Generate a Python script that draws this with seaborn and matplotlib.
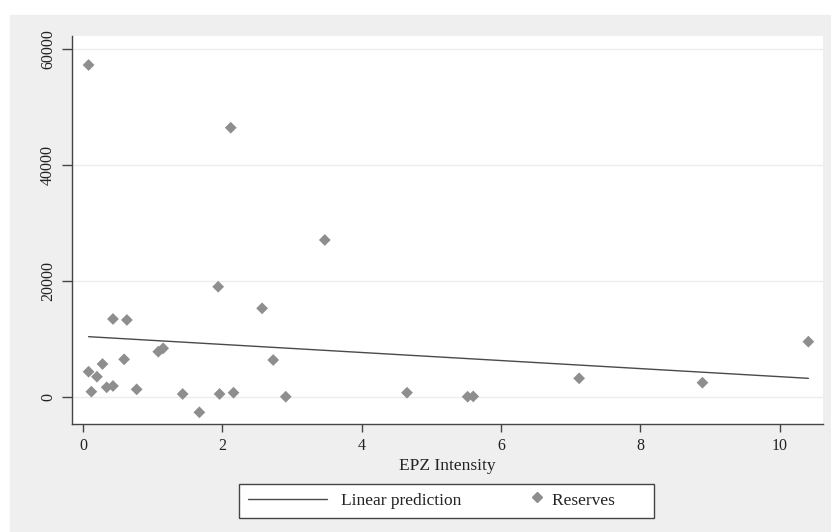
import numpy as np
import pandas as pd
import seaborn as sns
import matplotlib.pyplot as plt
from matplotlib.patches import Rectangle
from matplotlib.lines import Line2D
from matplotlib.legend_handler import HandlerLine2D

# values
epz = [0.08, 2.12, 3.47, 1.94, 2.57, 0.43, 0.63, 1.08, 1.15, 0.28,
       0.59, 2.73, 0.08, 0.20, 0.12, 0.34, 0.43, 0.77, 1.43, 1.67,
       1.96, 2.16, 2.91, 4.65, 5.52, 5.60, 7.12, 8.89, 10.41]
reserves = [57240, 46430, 27070, 19010, 15290, 13450, 13280, 7810, 8390, 5690,
            6500, 6380, 4360, 3500, 920, 1670, 1900, 1320, 520, -2640,
            520, 740, 50, 740, 50, 100, 3220, 2470, 9540]
pred_x = [0.08, 10.41]
pred_y = [10400, 3220]

df = pd.DataFrame({"EPZ Intensity": epz, "Reserves": reserves})
line_df = pd.DataFrame({"x": pred_x, "y": pred_y})

sns.set_style("white")
plt.rcParams['font.family'] = ['Liberation Serif', 'DejaVu Serif']


# stata style key: symbol sits at the right end of the key area
class RightMarker(HandlerLine2D):
    def create_artists(self, legend, orig_handle, xdescent, ydescent,
                       width, height, fontsize, trans):
        arts = super().create_artists(legend, orig_handle, xdescent, ydescent,
                                      width, height, fontsize, trans)
        for a in arts:
            xd = np.asarray(a.get_xdata(), float)
            yd = np.asarray(a.get_ydata(), float)
            a.set_data(np.full_like(xd, width - 1), yd + 1.5)
        return arts


fig = plt.figure(figsize=(8.31, 5.32), dpi=100)
fig.patches.append(Rectangle((10 / 831, 0), 820 / 831, 517 / 532,
                             transform=fig.transFigure, color='#efefef', zorder=-1))
ax = fig.add_axes([72 / 831, 108 / 532, 751 / 831, 388 / 532])
ax.set_zorder(2)
ax.set_facecolor('white')

sns.lineplot(data=line_df, x="x", y="y", color='#4a4a4a', lw=1, ax=ax)
sns.scatterplot(data=df, x="EPZ Intensity", y="Reserves", marker='D', s=36,
                color='#8e8e8e', edgecolor='none', ax=ax, zorder=3)

ax.set_xlim(-0.158, 10.62)
ax.set_ylim(-4655, 62241)
ax.set_xticks([0, 2, 4, 6, 8, 10])
ax.set_yticks([0, 20000, 40000, 60000])
ax.set_yticklabels(['0', '20000', '40000', '60000'], rotation=90, va='center')
ax.grid(axis='y', color='#ececec', lw=1)
ax.grid(axis='x', visible=False)
ax.set_axisbelow(True)

for s in ['top', 'right']:
    ax.spines[s].set_visible(False)
for s in ['left', 'bottom']:
    ax.spines[s].set_color('#444444')
    ax.spines[s].set_linewidth(1)
ax.tick_params(axis='both', direction='out', width=1, color='#444444',
               labelsize=11.5, labelcolor='#222222', left=True, bottom=True)
ax.tick_params(axis='y', length=7.5, pad=4)
ax.tick_params(axis='x', length=6, pad=4)
ax.set_xlabel("EPZ Intensity", fontsize=12.5, color='#222222', labelpad=3)
ax.set_ylabel("")

handles = [Line2D([0], [0], color='#4a4a4a', lw=1),
           Line2D([0], [0], marker='D', color='#8e8e8e', ls='none', markersize=5.5)]
leg = fig.legend(handles, ["Linear prediction", "Reserves       "], loc='center',
                 bbox_to_anchor=(446.5 / 831, 1 - 501 / 532), ncol=2, frameon=True,
                 fancybox=False, edgecolor='#444444', facecolor='white', framealpha=1,
                 fontsize=12.5, handlelength=4.6, handletextpad=0.8,
                 columnspacing=-0.2, borderpad=0.5,
                 handler_map={handles[1]: RightMarker()})
leg.get_frame().set_linewidth(1)
leg.set_zorder(3)
for t in leg.get_texts():
    t.set_color('#222222')

fig.savefig("out.png", dpi=100)
